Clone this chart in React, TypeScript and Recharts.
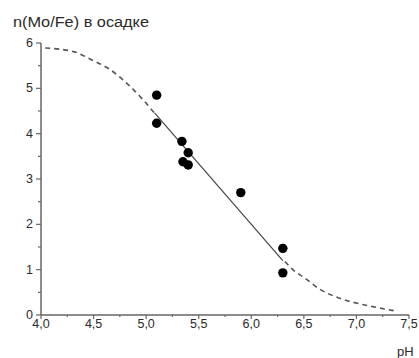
import React from 'react';
import { ComposedChart, XAxis, YAxis, Line, Scatter } from 'recharts';

// Measured points: pH vs n(Mo/Fe)
const pointPH = [5.1, 5.1, 5.34, 5.4, 5.35, 5.4, 5.9, 6.3, 6.3];
const pointN = [4.85, 4.23, 3.83, 3.58, 3.38, 3.31, 2.7, 1.47, 0.93];

// Linear fit segment
const fitPH = [5.08, 6.3];
const fitN = [4.46, 1.2];

// Dashed extrapolation, upper part
const upperPH = [4.04, 4.31, 4.48, 4.66, 4.83, 4.97, 5.08];
const upperN = [5.89, 5.81, 5.63, 5.41, 5.08, 4.75, 4.45];

// Dashed extrapolation, lower part
const lowerPH = [6.32, 6.4, 6.5, 6.65, 6.84, 7.04, 7.23, 7.37];
const lowerN = [1.18, 0.99, 0.83, 0.57, 0.37, 0.24, 0.15, 0.09];

const xTicks = [4, 4.25, 4.5, 4.75, 5, 5.25, 5.5, 5.75, 6, 6.25, 6.5, 6.75, 7, 7.25, 7.5];
const yTicks = [0, 0.5, 1, 1.5, 2, 2.5, 3, 3.5, 4, 4.5, 5, 5.5, 6];

const TITLE = 'n(Mo/Fe) в осадке';
const X_TITLE = 'pH';

const zip = (xs: number[], ys: number[]) => xs.map((x, i) => ({ x, y: ys[i] }));
const points = zip(pointPH, pointN);
const fit = zip(fitPH, fitN);
const upper = zip(upperPH, upperN);
const lower = zip(lowerPH, lowerN);

const AXIS = '#666';
const TEXT = '#2a2a2a';
const FONT = '"Liberation Sans", Arial, sans-serif';

const XTick = (props: any) => {
  const { x, y, payload } = props;
  const v = payload.value as number;
  const major = Math.abs(v * 2 - Math.round(v * 2)) < 1e-6;
  return (
    <g>
      <line x1={x} x2={x} y1={y} y2={y + (major ? 4 : 2)} stroke={AXIS} strokeWidth={1.2} />
      {major && (
        <text x={x} y={y + 13} textAnchor="middle" fontSize={12.5} fontFamily={FONT} fill={TEXT}>
          {v.toFixed(1).replace('.', ',')}
        </text>
      )}
    </g>
  );
};

const YTick = (props: any) => {
  const { x, y, payload } = props;
  const v = payload.value as number;
  const major = Math.abs(v - Math.round(v)) < 1e-6;
  return (
    <g>
      <line x1={x - (major ? 5 : 3)} x2={x} y1={y} y2={y} stroke={AXIS} strokeWidth={1.2} />
      {major && (
        <text x={x - 8} y={y + 4} textAnchor="end" fontSize={12.5} fontFamily={FONT} fill={TEXT}>
          {String(v)}
        </text>
      )}
    </g>
  );
};

export default function App() {
  return (
    <div style={{ position: 'absolute', left: 0, top: 0, width: 419, height: 358, background: '#fff' }}>
      <ComposedChart width={419} height={358} margin={{ top: 43, right: 10, bottom: 0, left: 0 }}>
        <XAxis
          type="number"
          dataKey="x"
          domain={[4, 7.5]}
          ticks={xTicks}
          interval={0}
          tick={<XTick />}
          tickLine={false}
          tickSize={0}
          tickMargin={0}
          height={43}
          axisLine={{ stroke: AXIS, strokeWidth: 1.5 }}
          allowDataOverflow
        />
        <YAxis
          type="number"
          dataKey="y"
          domain={[0, 6]}
          ticks={yTicks}
          interval={0}
          tick={<YTick />}
          tickLine={false}
          tickSize={0}
          tickMargin={0}
          width={41}
          axisLine={{ stroke: AXIS, strokeWidth: 1.5 }}
          allowDataOverflow
        />
        <Line
          data={upper}
          dataKey="y"
          type="monotone"
          stroke="#555"
          strokeWidth={1.6}
          strokeDasharray="5 4"
          dot={false}
          isAnimationActive={false}
        />
        <Line
          data={lower}
          dataKey="y"
          type="monotone"
          stroke="#555"
          strokeWidth={1.6}
          strokeDasharray="5 4"
          dot={false}
          isAnimationActive={false}
        />
        <Line
          data={fit}
          dataKey="y"
          type="linear"
          stroke="#444"
          strokeWidth={1.2}
          dot={false}
          isAnimationActive={false}
        />
        <Scatter
          data={points}
          dataKey="y"
          fill="#000"
          shape={(p: any) => <circle cx={p.cx} cy={p.cy} r={4.7} fill="#000" />}
          isAnimationActive={false}
        />
      </ComposedChart>
      <svg
        width={419}
        height={358}
        style={{ position: 'absolute', left: 0, top: 0, pointerEvents: 'none' }}
      >
        <text
          x={13}
          y={27}
          fontSize={14}
          fontFamily={FONT}
          fill={TEXT}
          textLength={136}
          lengthAdjust="spacingAndGlyphs"
        >
          {TITLE}
        </text>
        <text x={397} y={356} fontSize={13} fontFamily={FONT} fill={TEXT}>
          {X_TITLE}
        </text>
      </svg>
    </div>
  );
}
